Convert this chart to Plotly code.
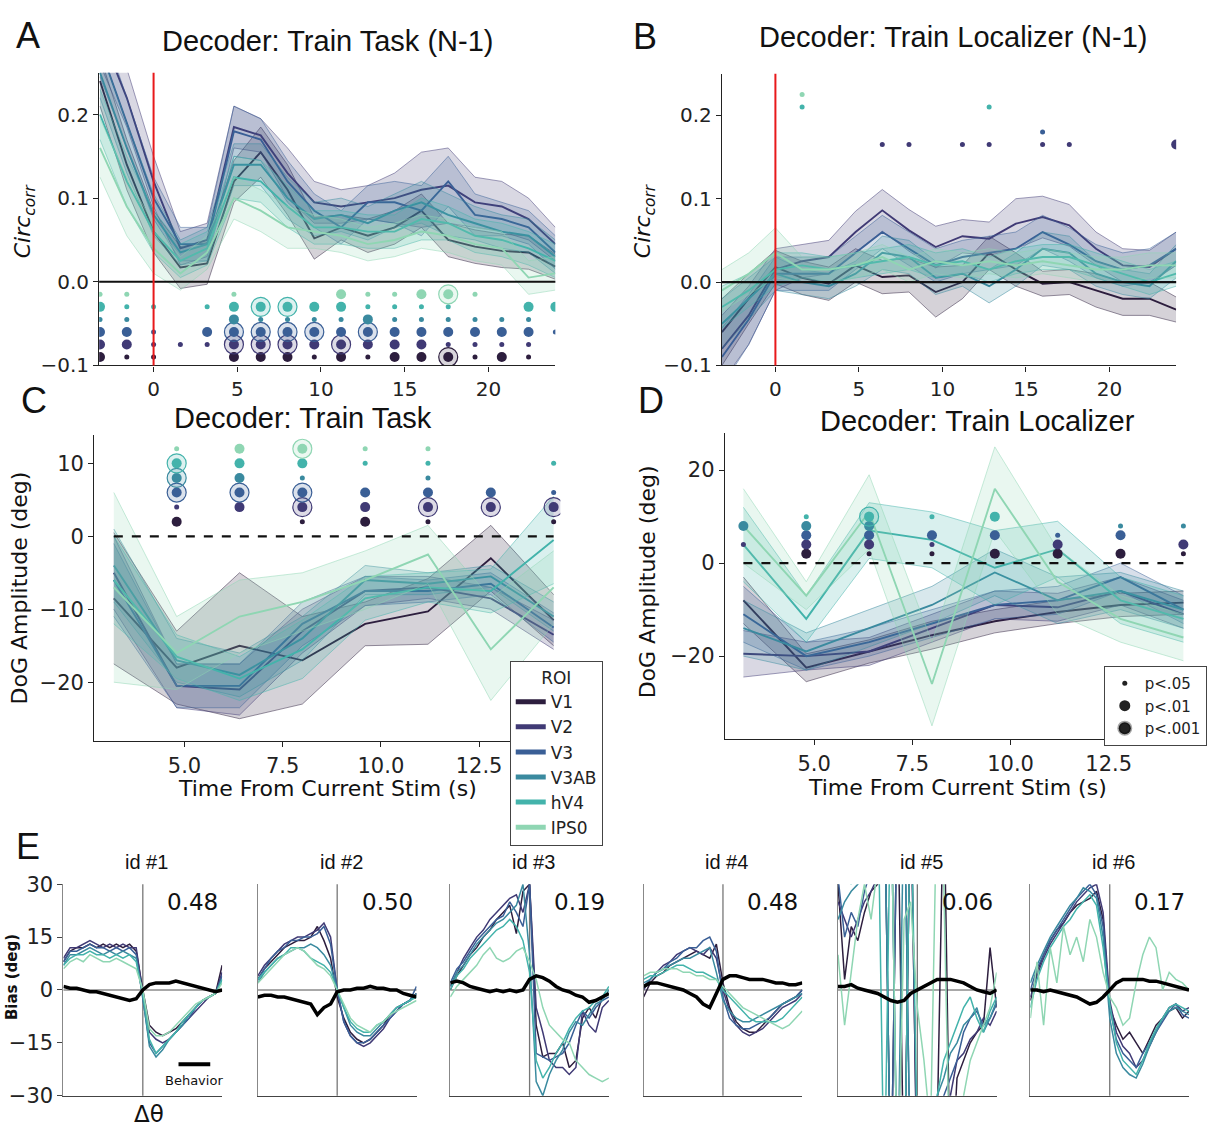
import numpy as np
import plotly.graph_objects as go

W, H = 1207, 1139

roi_names = ["V1", "V2", "V3", "V3AB", "hV4", "IPS0"]
roi_colors = ["#2d1e3e", "#403a75", "#3a5f96", "#3a8a9f", "#43b3ab", "#8fd6b3"]

t_prev = [-3.2, -1.6, 0.0, 1.6, 3.2, 4.8, 6.4, 8.0, 9.6, 11.2, 12.8, 14.4, 16.0, 17.6, 19.2, 20.8, 22.4, 24.0]
t_cur = [3.2, 4.8, 6.4, 8.0, 9.6, 11.2, 12.8, 14.4]

# ---------------- Panel A : Train Task (N-1) ----------------
A_V1 = [0.24, 0.14, 0.06, 0.017, 0.022, 0.12, 0.155, 0.11, 0.052, 0.065, 0.055, 0.065, 0.085, 0.05, 0.042, 0.037, 0.035, 0.018]
A_V2 = [0.30, 0.22, 0.12, 0.04, 0.05, 0.185, 0.175, 0.13, 0.095, 0.09, 0.095, 0.10, 0.11, 0.115, 0.095, 0.09, 0.075, 0.045]
A_V3 = [0.28, 0.19, 0.10, 0.045, 0.045, 0.18, 0.17, 0.12, 0.085, 0.065, 0.095, 0.095, 0.085, 0.12, 0.08, 0.075, 0.065, 0.035]
A_V3AB = [0.25, 0.16, 0.08, 0.035, 0.045, 0.14, 0.14, 0.10, 0.075, 0.08, 0.07, 0.085, 0.095, 0.08, 0.07, 0.06, 0.055, 0.03]
A_hV4 = [0.20, 0.12, 0.06, 0.025, 0.04, 0.125, 0.12, 0.09, 0.065, 0.065, 0.06, 0.06, 0.075, 0.07, 0.055, 0.05, 0.04, 0.025]
A_IPS0 = [0.16, 0.09, 0.04, 0.01, 0.035, 0.10, 0.085, 0.065, 0.06, 0.055, 0.045, 0.05, 0.06, 0.055, 0.045, 0.04, 0.005, 0.01]
A_err_V1 = [0.03, 0.03, 0.025, 0.025, 0.025, 0.025, 0.03, 0.03, 0.025, 0.015, 0.02, 0.02, 0.02, 0.02, 0.02, 0.02, 0.02, 0.015]
A_err_V2 = [0.04, 0.035, 0.03, 0.02, 0.02, 0.025, 0.02, 0.03, 0.025, 0.02, 0.02, 0.03, 0.045, 0.045, 0.03, 0.03, 0.025, 0.02]
A_err_V3 = [0.035, 0.03, 0.025, 0.02, 0.02, 0.03, 0.025, 0.025, 0.02, 0.02, 0.02, 0.025, 0.03, 0.03, 0.025, 0.02, 0.02, 0.02]
A_err_V3AB = [0.03, 0.03, 0.025, 0.015, 0.02, 0.025, 0.025, 0.025, 0.02, 0.02, 0.02, 0.02, 0.025, 0.025, 0.02, 0.02, 0.02, 0.02]
A_err_hV4 = [0.03, 0.03, 0.025, 0.02, 0.02, 0.025, 0.025, 0.025, 0.02, 0.02, 0.02, 0.02, 0.025, 0.02, 0.02, 0.02, 0.02, 0.02]
A_err_IPS0 = [0.035, 0.035, 0.03, 0.02, 0.02, 0.025, 0.025, 0.025, 0.02, 0.02, 0.02, 0.02, 0.02, 0.02, 0.02, 0.02, 0.02, 0.02]
# significance: 0 none, 1 p<.05, 2 p<.01, 3 p<.001
A_sig_V1 = [2, 1, 1, 0, 0, 2, 2, 2, 1, 2, 1, 2, 2, 3, 1, 2, 1, 0]
A_sig_V2 = [2, 2, 1, 1, 1, 3, 3, 3, 2, 3, 2, 2, 2, 1, 1, 1, 1, 0]
A_sig_V3 = [2, 2, 1, 0, 2, 3, 3, 3, 3, 2, 3, 2, 2, 2, 2, 2, 2, 1]
A_sig_V3AB = [1, 1, 0, 0, 0, 2, 1, 1, 1, 1, 2, 1, 1, 1, 1, 1, 1, 0]
A_sig_hV4 = [2, 1, 1, 0, 1, 2, 3, 3, 2, 2, 1, 1, 1, 1, 0, 0, 2, 2]
A_sig_IPS0 = [1, 1, 0, 0, 0, 1, 0, 0, 0, 2, 1, 1, 2, 3, 1, 0, 0, 0]
A_sig_rows = [-0.09, -0.075, -0.06, -0.045, -0.03, -0.015]

# ---------------- Panel B : Train Localizer (N-1) ----------------
B_V1 = [-0.06, -0.02, 0.018, 0.005, -0.002, 0.02, 0.006, 0.008, -0.012, 0.0, 0.035, 0.015, -0.002, 0.0, -0.01, -0.02, -0.02, -0.033]
B_V2 = [-0.08, -0.04, 0.015, 0.025, 0.03, 0.06, 0.086, 0.062, 0.042, 0.055, 0.052, 0.07, 0.078, 0.068, 0.04, 0.02, 0.018, 0.04]
B_V3 = [-0.09, -0.045, 0.01, 0.01, 0.01, 0.035, 0.06, 0.04, 0.02, 0.03, 0.035, 0.04, 0.06, 0.045, 0.025, 0.015, 0.02, 0.04]
B_V3AB = [-0.05, -0.02, 0.01, 0.0, -0.005, 0.01, 0.035, 0.03, 0.005, 0.01, -0.005, 0.015, 0.04, 0.035, 0.01, 0.0, -0.005, 0.025]
B_hV4 = [-0.03, -0.01, 0.015, 0.02, 0.015, 0.02, 0.025, 0.03, 0.02, 0.025, 0.015, 0.025, 0.03, 0.03, 0.02, 0.01, 0.0, 0.01]
B_IPS0 = [-0.01, 0.01, 0.035, 0.015, 0.015, 0.02, 0.03, 0.015, 0.025, 0.02, 0.025, 0.02, 0.025, 0.02, 0.015, 0.015, 0.02, 0.02]
B_err_V1 = [0.04, 0.03, 0.02, 0.02, 0.02, 0.02, 0.02, 0.02, 0.03, 0.02, 0.02, 0.02, 0.015, 0.015, 0.02, 0.02, 0.02, 0.015]
B_err_V2 = [0.04, 0.035, 0.025, 0.02, 0.02, 0.025, 0.025, 0.025, 0.025, 0.02, 0.02, 0.03, 0.025, 0.025, 0.02, 0.02, 0.02, 0.02]
B_err_V3 = [0.035, 0.03, 0.02, 0.02, 0.02, 0.02, 0.02, 0.02, 0.02, 0.02, 0.02, 0.02, 0.02, 0.02, 0.02, 0.02, 0.02, 0.02]
B_err_V3AB = [0.03, 0.025, 0.02, 0.015, 0.015, 0.015, 0.02, 0.02, 0.02, 0.015, 0.02, 0.02, 0.02, 0.02, 0.015, 0.015, 0.015, 0.02]
B_err_hV4 = [0.025, 0.02, 0.02, 0.015, 0.015, 0.015, 0.015, 0.015, 0.015, 0.015, 0.015, 0.015, 0.015, 0.015, 0.015, 0.015, 0.015, 0.015]
B_err_IPS0 = [0.025, 0.025, 0.03, 0.015, 0.015, 0.015, 0.015, 0.015, 0.015, 0.015, 0.015, 0.015, 0.015, 0.015, 0.015, 0.015, 0.015, 0.015]
B_sig_V1 = [0] * 18
B_sig_V2 = [0, 0, 0, 0, 0, 0, 1, 1, 0, 1, 1, 0, 1, 1, 0, 0, 0, 2]
B_sig_V3 = [0, 0, 0, 0, 0, 0, 0, 0, 0, 0, 0, 0, 1, 0, 0, 0, 0, 0]
B_sig_V3AB = [0] * 18
B_sig_hV4 = [0, 0, 0, 1, 0, 0, 0, 0, 0, 0, 1, 0, 0, 0, 0, 0, 0, 0]
B_sig_IPS0 = [0, 0, 0, 1, 0, 0, 0, 0, 0, 0, 0, 0, 0, 0, 0, 0, 0, 0]
B_sig_rows = [0.15, 0.165, 0.18, 0.195, 0.21, 0.225]

# ---------------- Panel C : Train Task ----------------
C_V1 = [-8.5, -18, -15, -17, -12, -10.3, -3, -11.5]
C_V2 = [-5, -20.5, -21, -13, -7.5, -7, -8.5, -13.5]
C_V3 = [-6, -20.5, -20.5, -12, -7.5, -7.5, -6.5, -12.5]
C_V3AB = [-4, -17, -19, -14, -6, -6.5, -5.5, -11]
C_hV4 = [-6, -16.5, -19.5, -15.5, -8.5, -7, -7.5, -0.5]
C_IPS0 = [-7, -16, -11, -9, -6, -2.5, -15.5, -7]
C_err_V1 = [9, 5, 10, 6, 3, 4.5, 4.5, 3.5]
C_err_V2 = [5, 3, 3.5, 3, 2, 1.5, 1.5, 2]
C_err_V3 = [5, 3, 3, 3, 2, 1.5, 1.5, 2]
C_err_V3AB = [5, 3, 3, 3, 2, 1.5, 1.5, 2]
C_err_hV4 = [6, 3, 3, 4, 3, 2, 3, 6]
C_err_IPS0 = [13, 5, 5, 4, 4, 4, 7, 5]
C_sig_V1 = [0, 2, 0, 1, 2, 1, 0, 1]
C_sig_V2 = [0, 1, 2, 3, 2, 3, 3, 3]
C_sig_V3 = [0, 3, 3, 3, 2, 2, 2, 1]
C_sig_V3AB = [0, 3, 2, 1, 0, 1, 0, 0]
C_sig_hV4 = [0, 3, 2, 2, 1, 1, 0, 1]
C_sig_IPS0 = [0, 1, 2, 3, 1, 1, 0, 0]
CD_sig_rows = [2, 4, 6, 8, 10, 12]

# ---------------- Panel D : Train Localizer ----------------
D_V1 = [-8, -22.5, -19, -15.5, -12.5, -10.5, -9, -8.5]
D_V2 = [-19.5, -20, -19, -14, -9, -9.5, -6, -11]
D_V3 = [-11, -20, -17, -13, -9, -8, -3, -10]
D_V3AB = [-14, -19, -14, -9, -2, -8, -6, -10]
D_hV4 = [4, -12, 7, 5, -1, 3, -8, -12]
D_IPS0 = [8, -7, 11, -26, 16, -4, -12, -16]
D_err_V1 = [5, 3, 2.5, 3, 2.5, 2.5, 2.5, 2.5]
D_err_V2 = [5, 3, 3, 3, 3, 3, 3, 3]
D_err_V3 = [6, 3, 3, 3, 3, 3, 3, 3]
D_err_V3AB = [6, 4, 4, 4, 5, 5, 4, 4]
D_err_hV4 = [8, 5, 6, 6, 8, 6, 5, 5]
D_err_IPS0 = [8, 3, 8, 9, 9, 7, 5, 5]
D_sig_V1 = [0, 2, 1, 1, 2, 2, 2, 1]
D_sig_V2 = [1, 2, 2, 1, 0, 2, 0, 2]
D_sig_V3 = [0, 2, 2, 2, 2, 1, 2, 0]
D_sig_V3AB = [2, 2, 2, 0, 0, 0, 1, 1]
D_sig_hV4 = [0, 1, 3, 1, 2, 0, 0, 0]
D_sig_IPS0 = [0, 0, 0, 0, 0, 0, 0, 0]

# ---------------- Panel E : individual bias curves ----------------
e_theta = [-90, -82.5, -75, -67.5, -60, -52.5, -45, -37.5, -30, -22.5, -15, -7.5, 0,
           7.5, 15, 22.5, 30, 37.5, 45, 52.5, 60, 67.5, 75, 82.5, 90]
e_ids = ["id #1", "id #2", "id #3", "id #4", "id #5", "id #6"]
e_corr = ["0.48", "0.50", "0.19", "0.48", "0.06", "0.17"]

E1_beh = [1, 0.5, 0.5, 0, -0.5, -0.5, -1, -1.5, -2, -2.5, -3, -2.5, 0, 1.5, 2, 2, 2, 2.5, 2, 1.5, 1, 0.5, 0, -0.5, 0]
E1_V1 = [8, 11, 12, 12, 13, 12, 13, 12, 13, 12, 13, 11, 0, -10, -12, -13, -12, -11, -9, -7, -5, -3, -2, -1, 7]
E1_V2 = [9, 12, 12, 13, 14, 13, 12, 13, 12, 13, 12, 12, -1, -12, -14, -15, -14, -12, -10, -8, -6, -4, -2, -1, 5]
E1_V3 = [8, 11, 11, 12, 13, 12, 12, 11, 12, 11, 12, 10, -2, -15, -18, -16, -14, -12, -10, -8, -5, -3, -2, -1, 4]
E1_V3AB = [7, 10, 10, 11, 12, 11, 10, 11, 10, 11, 10, 9, -2, -16, -19, -17, -14, -12, -10, -7, -5, -3, -2, -1, 3]
E1_hV4 = [7, 9, 10, 10, 11, 10, 10, 9, 10, 9, 10, 8, -1, -14, -18, -16, -14, -12, -9, -7, -5, -3, -2, -1, 3]
E1_IPS0 = [6, 8, 9, 8, 10, 9, 8, 8, 9, 8, 7, 6, 0, -11, -13, -13, -12, -10, -8, -6, -4, -3, -2, -1, 2]

E2_beh = [-2, -1.5, -1.5, -2, -2, -2.5, -3, -3.5, -4, -7, -5, -4, -0.5, 0, 0, 0.5, 0.5, 1, 0.5, 0.5, 0, 0, -1, -1.5, -2]
E2_V1 = [3, 6, 8, 10, 12, 13, 14, 14, 15, 18, 14, 9, -2, -8, -12, -14, -15, -14, -12, -10, -7, -5, -4, -3, -1]
E2_V2 = [4, 7, 9, 11, 13, 14, 15, 15, 16, 17, 19, 15, 0, -9, -13, -15, -16, -15, -13, -11, -8, -6, -4, -3, -1]
E2_V3 = [3, 6, 9, 11, 12, 14, 14, 15, 15, 16, 18, 13, 0, -9, -13, -15, -15, -14, -12, -10, -8, -6, -4, -3, 1]
E2_V3AB = [2, 5, 7, 9, 10, 11, 12, 12, 13, 12, 10, 7, 0, -5, -10, -12, -13, -13, -11, -9, -7, -5, -4, -3, -1]
E2_hV4 = [3, 5, 7, 9, 10, 12, 12, 11, 9, 8, 7, 5, 0, -5, -9, -11, -12, -12, -10, -9, -7, -5, -4, -3, -2]
E2_IPS0 = [2, 4, 6, 8, 10, 11, 12, 11, 9, 7, 6, 4, 0, -4, -8, -10, -11, -12, -10, -9, -7, -6, -5, -4, -3]

E3_beh = [2, 2.5, 2, 1, 0.5, 0, -0.5, 0, -0.5, 0, -0.5, 0, 3, 4, 3.5, 2.5, 1, 0, -0.5, -1.5, -2, -3.5, -3, -2, -1]
E3_V1 = [0, 4, 7, 10, 12, 15, 17, 20, 22, 24, 16, 28, 30, -10, -19, -18, -18, -15, -22, -20, -8, -5, -8, -2, -1]
E3_V2 = [1, 5, 9, 12, 15, 17, 20, 22, 24, 26, 27, 22, 30, -5, -12, -20, -22, -22, -24, -22, -6, -10, -12, -5, -3]
E3_V3 = [2, 6, 8, 11, 14, 16, 18, 20, 21, 25, 22, 18, 30, -18, -19, -20, -19, -18, -15, -10, -6, -8, -5, -3, -2]
E3_V3AB = [1, 5, 7, 10, 13, 15, 17, 19, 20, 22, 24, 30, 10, -26, -30, -24, -20, -17, -12, -9, -10, -7, -4, -3, 0]
E3_hV4 = [0, 4, 6, 9, 11, 13, 15, 17, 18, 20, 18, 14, 5, -20, -25, -22, -18, -15, -11, -8, -6, -5, -3, -2, 1]
E3_IPS0 = [-2, 1, 3, 5, 7, 10, 12, 9, 8, 9, 11, 12, 8, 3, -5, -10, -12, -14, -15, -20, -22, -24, -25, -26, -25]

E4_beh = [1, 2, 2, 1.5, 1, 0.5, 0, -1, -2, -4, -5, -1, 3, 4, 4, 3.5, 3, 3, 3, 2.5, 2, 2, 1.5, 1.5, 2]
E4_V1 = [-2, 2, 4, 5, 7, 8, 9, 10, 11, 10, 9, 13, 2, -5, -9, -11, -12, -12, -10, -8, -6, -4, -3, -2, 0]
E4_V2 = [0, 3, 5, 7, 8, 10, 11, 12, 11, 10, 12, 9, 0, -6, -10, -12, -13, -12, -11, -9, -7, -5, -4, -3, -1]
E4_V3 = [1, 3, 5, 6, 8, 9, 11, 12, 12, 14, 15, 11, -2, -8, -10, -11, -11, -10, -9, -8, -6, -4, -3, -2, 0]
E4_V3AB = [2, 3, 5, 6, 7, 8, 9, 9, 10, 11, 12, 5, -3, -6, -8, -9, -9, -8, -7, -6, -5, -4, -3, -2, -1]
E4_hV4 = [3, 4, 4, 5, 6, 7, 7, 6, 5, 5, 4, 3, 0, -2, -4, -6, -8, -9, -9, -9, -9, -8, -6, -4, -2]
E4_IPS0 = [4, 5, 5, 6, 6, 6, 5, 5, 4, 4, 3, 3, 1, -1, -3, -5, -6, -7, -8, -9, -10, -11, -10, -8, -6]

E5_beh = [1, 1, 1.5, 0.5, 0, -0.5, -1, -2, -3, -3.5, -3, -1, 0, 1, 2, 3, 3, 3, 2.5, 2, 1, 0, -0.5, -1, 0]
E5_V1 = [30, 3, 18, 14, 22, 28, 30, 60, -60, 60, -60, 60, -60, -40, -45, -40, 60, -60, -25, -20, -15, -12, -10, 12, -5]
E5_V2 = [25, 20, 15, 20, 25, 28, 32, 40, 60, -60, -60, 60, -60, -50, -40, -60, -35, -30, -20, -18, -14, -12, -8, -10, -6]
E5_V3 = [32, 15, 22, 18, 28, 35, 40, 60, -60, 60, 60, -60, -60, -55, -45, -35, -30, -25, -20, -12, -8, -6, -10, -8, -4]
E5_V3AB = [20, 25, 28, 30, 35, 40, 60, 60, -60, -60, 60, -60, -50, -45, -40, -30, -25, -18, -15, -10, -8, -5, -12, -8, -3]
E5_hV4 = [60, 35, 30, 40, 45, 50, 60, -60, 60, -60, -60, 60, -45, -40, -35, -30, -20, -15, -10, -5, -2, -8, -12, -6, -2]
E5_IPS0 = [10, -10, 5, 20, 30, 20, 35, 40, 60, -60, 20, 25, -5, -20, -40, 60, 30, -60, -40, -30, -20, -15, -10, -5, 5]

E6_beh = [0, 0, -0.5, 0, -0.5, -1, -1.5, -2, -3, -4, -3.5, -2, 0, 2, 3, 3, 3, 3, 2.5, 2.5, 2, 1.5, 1, 0.5, 0]
E6_V1 = [-3, 5, 10, 14, 17, 19, 22, 24, 25, 26, 28, 20, -5, -10, -14, -12, -15, -18, -14, -10, -8, -6, -5, -8, -6]
E6_V2 = [-2, 4, 9, 13, 16, 19, 22, 25, 27, 29, 30, 22, -3, -12, -16, -18, -22, -20, -16, -12, -8, -5, -4, -6, -5]
E6_V3 = [0, 6, 10, 14, 17, 20, 23, 26, 28, 30, 27, 18, -5, -14, -18, -20, -22, -18, -15, -12, -9, -6, -4, -7, -8]
E6_V3AB = [2, 7, 11, 15, 18, 21, 24, 26, 29, 28, 26, 15, -8, -18, -22, -24, -25, -21, -16, -12, -8, -6, -5, -6, -7]
E6_hV4 = [-5, 3, 8, 12, 15, 18, 20, 23, 25, 27, 24, 12, -4, -15, -20, -22, -24, -20, -15, -11, -8, -5, -4, -5, -6]
E6_IPS0 = [-8, 8, -10, 12, 2, 18, 10, 15, 8, 20, 15, 5, -2, -5, -10, -8, 2, 10, 15, 12, 0, 5, 3, 2, 0]

# ---------------- groupings ----------------
A_means = [A_V1, A_V2, A_V3, A_V3AB, A_hV4, A_IPS0]
A_errs = [A_err_V1, A_err_V2, A_err_V3, A_err_V3AB, A_err_hV4, A_err_IPS0]
A_sigs = [A_sig_V1, A_sig_V2, A_sig_V3, A_sig_V3AB, A_sig_hV4, A_sig_IPS0]
B_means = [B_V1, B_V2, B_V3, B_V3AB, B_hV4, B_IPS0]
B_errs = [B_err_V1, B_err_V2, B_err_V3, B_err_V3AB, B_err_hV4, B_err_IPS0]
B_sigs = [B_sig_V1, B_sig_V2, B_sig_V3, B_sig_V3AB, B_sig_hV4, B_sig_IPS0]
C_means = [C_V1, C_V2, C_V3, C_V3AB, C_hV4, C_IPS0]
C_errs = [C_err_V1, C_err_V2, C_err_V3, C_err_V3AB, C_err_hV4, C_err_IPS0]
C_sigs = [C_sig_V1, C_sig_V2, C_sig_V3, C_sig_V3AB, C_sig_hV4, C_sig_IPS0]
D_means = [D_V1, D_V2, D_V3, D_V3AB, D_hV4, D_IPS0]
D_errs = [D_err_V1, D_err_V2, D_err_V3, D_err_V3AB, D_err_hV4, D_err_IPS0]
D_sigs = [D_sig_V1, D_sig_V2, D_sig_V3, D_sig_V3AB, D_sig_hV4, D_sig_IPS0]
E_beh = [E1_beh, E2_beh, E3_beh, E4_beh, E5_beh, E6_beh]
E_rois = [
    [E1_V1, E1_V2, E1_V3, E1_V3AB, E1_hV4, E1_IPS0],
    [E2_V1, E2_V2, E2_V3, E2_V3AB, E2_hV4, E2_IPS0],
    [E3_V1, E3_V2, E3_V3, E3_V3AB, E3_hV4, E3_IPS0],
    [E4_V1, E4_V2, E4_V3, E4_V3AB, E4_hV4, E4_IPS0],
    [E5_V1, E5_V2, E5_V3, E5_V3AB, E5_hV4, E5_IPS0],
    [E6_V1, E6_V2, E6_V3, E6_V3AB, E6_hV4, E6_IPS0],
]

# ---------------- helpers ----------------
TICK_FONT = "DejaVu Sans"
TITLE_FONT = "Liberation Sans"


def rgba(hexc, a):
    h = hexc.lstrip("#")
    r, g, b = int(h[0:2], 16), int(h[2:4], 16), int(h[4:6], 16)
    return f"rgba({r},{g},{b},{a})"


def xd(p0, p1):
    return [p0 / W, p1 / W]


def yd(top, bot):
    return [1 - bot / H, 1 - top / H]


fig = go.Figure()


def add_bands(ax, t, means, errs):
    xa, ya = ax
    for i, (m, e) in enumerate(zip(means, errs)):
        m = np.asarray(m, float)
        e = np.asarray(e, float)
        c = roi_colors[i]
        fig.add_trace(go.Scatter(x=t, y=m - e, mode="lines", xaxis=xa, yaxis=ya,
                                 line=dict(color=rgba(c, 0.55), width=0.9),
                                 showlegend=False, hoverinfo="skip"))
        fig.add_trace(go.Scatter(x=t, y=m + e, mode="lines", xaxis=xa, yaxis=ya,
                                 fill="tonexty", fillcolor=rgba(c, 0.2),
                                 line=dict(color=rgba(c, 0.55), width=0.9),
                                 showlegend=False, hoverinfo="skip"))
        fig.add_trace(go.Scatter(x=t, y=m, mode="lines", xaxis=xa, yaxis=ya,
                                 line=dict(color=c, width=1.9), name=roi_names[i],
                                 showlegend=False))


def add_sig(ax, t, sigs, rows):
    xa, ya = ax
    t = np.asarray(t, float)
    for i, s in enumerate(sigs):
        s = np.asarray(s)
        c = roi_colors[i]
        yrow = rows[i]
        m1 = s == 1
        m2 = s >= 2
        m3 = s == 3
        if m3.any():
            fig.add_trace(go.Scatter(x=t[m3], y=[yrow] * int(m3.sum()), mode="markers",
                                     xaxis=xa, yaxis=ya,
                                     marker=dict(size=19, color=rgba(c, 0.18),
                                                 line=dict(color=c, width=1.2)),
                                     showlegend=False, hoverinfo="skip"))
        if m2.any():
            fig.add_trace(go.Scatter(x=t[m2], y=[yrow] * int(m2.sum()), mode="markers",
                                     xaxis=xa, yaxis=ya,
                                     marker=dict(size=10, color=c, line=dict(width=0)),
                                     showlegend=False, hoverinfo="skip"))
        if m1.any():
            fig.add_trace(go.Scatter(x=t[m1], y=[yrow] * int(m1.sum()), mode="markers",
                                     xaxis=xa, yaxis=ya,
                                     marker=dict(size=5, color=c, line=dict(width=0)),
                                     showlegend=False, hoverinfo="skip"))


# ---------------- draw panels A-D ----------------
add_bands(("x", "y"), t_prev, A_means, A_errs)
add_sig(("x", "y"), t_prev, A_sigs, A_sig_rows)
add_bands(("x2", "y2"), t_prev, B_means, B_errs)
add_sig(("x2", "y2"), t_prev, B_sigs, B_sig_rows)
add_bands(("x3", "y3"), t_cur, C_means, C_errs)
add_sig(("x3", "y3"), t_cur, C_sigs, CD_sig_rows)
add_bands(("x4", "y4"), t_cur, D_means, D_errs)
add_sig(("x4", "y4"), t_cur, D_sigs, CD_sig_rows)

# ---------------- panel E ----------------
for k in range(6):
    xa, ya = f"x{5 + k}", f"y{5 + k}"
    for i, r in enumerate(E_rois[k]):
        fig.add_trace(go.Scatter(x=e_theta, y=r, mode="lines", xaxis=xa, yaxis=ya,
                                 line=dict(color=roi_colors[i], width=1.5),
                                 showlegend=False, hoverinfo="skip"))
    fig.add_trace(go.Scatter(x=e_theta, y=E_beh[k], mode="lines", xaxis=xa, yaxis=ya,
                             line=dict(color="black", width=3.5),
                             showlegend=False, hoverinfo="skip"))

# ---------------- legends ----------------
for i, nm in enumerate(roi_names):
    fig.add_trace(go.Scatter(x=[None], y=[None], mode="lines", xaxis="x3", yaxis="y3",
                             line=dict(color=roi_colors[i], width=5), name=nm,
                             legend="legend", showlegend=True))
sig_labels = ["p<.05", "p<.01", "p<.001"]
fig.add_trace(go.Scatter(x=[None], y=[None], mode="markers", xaxis="x4", yaxis="y4",
                         marker=dict(size=5, color="#222"), name=sig_labels[0],
                         legend="legend2", showlegend=True))
fig.add_trace(go.Scatter(x=[None], y=[None], mode="markers", xaxis="x4", yaxis="y4",
                         marker=dict(size=11, color="#222"), name=sig_labels[1],
                         legend="legend2", showlegend=True))
fig.add_trace(go.Scatter(x=[None], y=[None], mode="markers", xaxis="x4", yaxis="y4",
                         marker=dict(size=12, color="#222", line=dict(color="rgba(0,0,0,0.35)", width=3)),
                         name=sig_labels[2], legend="legend2", showlegend=True))

# ---------------- axes ----------------
def axis_common(**kw):
    d = dict(showgrid=False, zeroline=False, showline=True, linecolor="#222", linewidth=1.3,
             ticks="outside", ticklen=5, tickwidth=1.2, tickcolor="#222",
             tickfont=dict(family=TICK_FONT, size=20, color="#222"))
    d.update(kw)
    return d

layout = dict(
    width=W, height=H, margin=dict(l=0, r=0, t=0, b=0),
    paper_bgcolor="white", plot_bgcolor="white",
    xaxis=axis_common(domain=xd(100, 560), range=[-3.25, 24.0], anchor="y",
                      tickvals=[0, 5, 10, 15, 20]),
    yaxis=axis_common(domain=yd(62, 361), range=[-0.1, 0.25], anchor="x",
                      tickvals=[-0.1, 0.0, 0.1, 0.2], tickformat=".1f"),
    xaxis2=axis_common(domain=xd(728, 1186), range=[-3.2, 24.0], anchor="y2",
                       tickvals=[0, 5, 10, 15, 20]),
    yaxis2=axis_common(domain=yd(63, 361), range=[-0.1, 0.25], anchor="x2",
                       tickvals=[-0.1, 0.0, 0.1, 0.2], tickformat=".1f"),
    xaxis3=axis_common(domain=xd(95, 565), range=[2.7, 14.57], anchor="y3",
                       tickvals=[5, 7.5, 10, 12.5], tickformat=".1f",
                       tickfont=dict(family=TICK_FONT, size=21, color="#222")),
    yaxis3=axis_common(domain=yd(432, 745), range=[-28.1, 13.9], anchor="x3",
                       tickvals=[-20, -10, 0, 10],
                       tickfont=dict(family=TICK_FONT, size=21, color="#222")),
    xaxis4=axis_common(domain=xd(731, 1200), range=[2.73, 14.57], anchor="y4",
                       tickvals=[5, 7.5, 10, 12.5], tickformat=".1f",
                       tickfont=dict(family=TICK_FONT, size=21, color="#222")),
    yaxis4=axis_common(domain=yd(430, 743), range=[-37.9, 28], anchor="x4",
                       tickvals=[-20, 0, 20],
                       tickfont=dict(family=TICK_FONT, size=21, color="#222")),
)

e_left = [64, 260, 454, 649, 845, 1039]
e_w = 160
for k in range(6):
    layout[f"xaxis{5 + k}"] = dict(domain=xd(e_left[k], e_left[k] + e_w), range=[-90, 90],
                                   anchor=f"y{5 + k}", showgrid=False, zeroline=False,
                                   showline=True, linecolor="#444", linewidth=1.3,
                                   ticks="", showticklabels=False)
    yk = dict(domain=yd(891, 1107), range=[-30, 30], anchor=f"x{5 + k}",
              showgrid=False, zeroline=False, showline=True, linecolor="#888",
              linewidth=1.3)
    if k == 0:
        yk.update(ticks="outside", ticklen=5, tickwidth=1.2, tickcolor="#444",
                  tickvals=[-30, -15, 0, 15, 30],
                  tickfont=dict(family=TICK_FONT, size=21, color="#222"))
    else:
        yk.update(ticks="", showticklabels=False)
    layout[f"yaxis{5 + k}"] = yk

layout["legend"] = dict(
    title=dict(text="ROI", side="top center", font=dict(family=TICK_FONT, size=17, color="#222")),
    x=514 / W, y=1 - 663 / H, xanchor="left", yanchor="top", traceorder="normal",
    bgcolor="white", bordercolor="#444", borderwidth=1,
    font=dict(family=TICK_FONT, size=17, color="#222"), tracegroupgap=0)
layout["legend2"] = dict(
    x=1113 / W, y=1 - 668 / H, xanchor="left", yanchor="top", traceorder="normal",
    bgcolor="white", bordercolor="#444", borderwidth=1, itemwidth=30,
    font=dict(family=TICK_FONT, size=15, color="#222"), tracegroupgap=0)

fig.update_layout(**layout)

# ---------------- reference lines ----------------
shapes = []
for xa, ya in [("x", "y"), ("x2", "y2")]:
    shapes.append(dict(type="line", xref=f"{xa} domain", yref=ya, x0=0, x1=1, y0=0, y1=0,
                       line=dict(color="#111", width=2.2)))
    shapes.append(dict(type="line", xref=xa, yref=f"{ya} domain", x0=0, x1=0, y0=0, y1=1,
                       line=dict(color="#e8191b", width=2)))
for xa, ya in [("x3", "y3"), ("x4", "y4")]:
    shapes.append(dict(type="line", xref=xa, yref=ya, x0=t_cur[0], x1=t_cur[-1], y0=0, y1=0,
                       line=dict(color="#111", width=2.2, dash="dash")))
for k in range(6):
    xa, ya = f"x{5 + k}", f"y{5 + k}"
    shapes.append(dict(type="line", xref=f"{xa} domain", yref=ya, x0=0, x1=1, y0=0, y1=0,
                       layer="below", line=dict(color="#a8a8a8", width=2)))
    shapes.append(dict(type="line", xref=xa, yref=f"{ya} domain", x0=0, x1=0, y0=0, y1=1,
                       layer="below", line=dict(color="#777", width=1.3)))
# behaviour key bar in E1
shapes.append(dict(type="line", xref="paper", yref="paper", x0=180 / W, x1=212 / W,
                   y0=1 - 1075 / H, y1=1 - 1075 / H, line=dict(color="black", width=4)))
fig.update_layout(shapes=shapes)

# ---------------- text ----------------
ann = []


def txt(x, y, s, size, family=TICK_FONT, angle=0, xanchor="center", color="#111"):
    ann.append(dict(x=x / W, y=1 - y / H, xref="paper", yref="paper", text=s, showarrow=False,
                    xanchor=xanchor, yanchor="middle", textangle=angle,
                    font=dict(family=family, size=size, color=color)))


txt(28, 24, "A", 36, TITLE_FONT)
txt(650, 25, "B", 36, TITLE_FONT)
txt(34, 397, "C", 36, TITLE_FONT)
txt(656, 397, "D", 36, TITLE_FONT)
txt(28, 852, "E", 36, TITLE_FONT)
txt(330, 30, "Decoder: Train Task (N-1)", 29, TITLE_FONT)
txt(961, 26, "Decoder: Train Localizer (N-1)", 29, TITLE_FONT)
txt(306, 415, "Decoder: Train Task", 29, TITLE_FONT)
txt(986, 418, "Decoder: Train Localizer", 29, TITLE_FONT)
txt(25, 213, "<i>Circ</i><sub><i>corr</i></sub>", 22, angle=-90)
txt(650, 213, "<i>Circ</i><sub><i>corr</i></sub>", 22, angle=-90)
txt(20, 588, "DoG Amplitude (deg)", 22, angle=-90)
txt(653, 582, "DoG Amplitude (deg)", 22, angle=-90)
txt(330, 793, "Time From Current Stim (s)", 22)
txt(966, 792, "Time From Current Stim (s)", 22)
for k in range(6):
    txt(e_left[k] + e_w / 2 + 4, 868, e_ids[k], 20, TITLE_FONT)
    txt(e_left[k] + e_w - 2, 909, e_corr[k], 23, xanchor="right")
txt(12, 986, "<b>Bias (deg)</b>", 15, angle=-90)
txt(196, 1092, "Behavior", 13)
txt(150, 1126, "Δθ", 23)
fig.update_layout(annotations=ann)

fig.write_html("out.html")
